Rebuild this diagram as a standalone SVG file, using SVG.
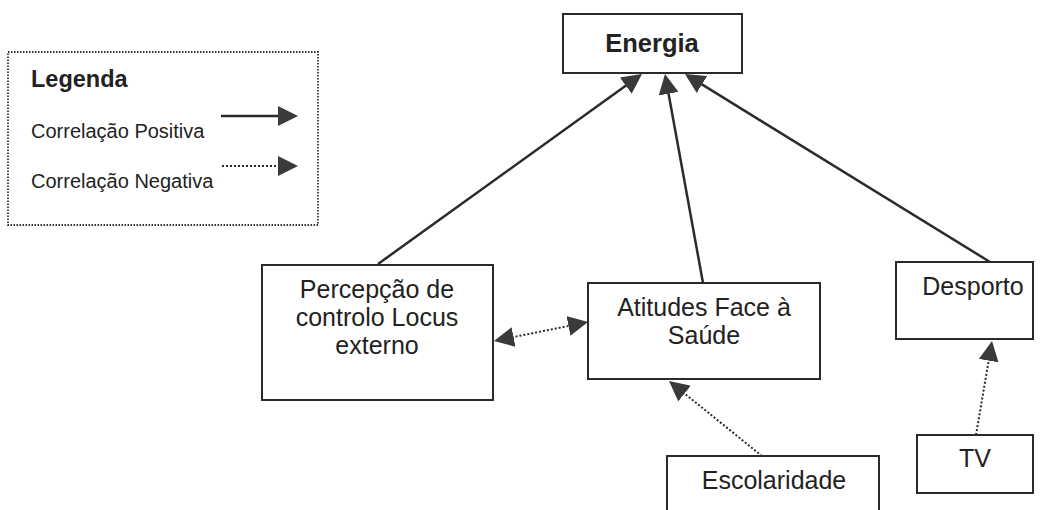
<svg xmlns="http://www.w3.org/2000/svg" width="1043" height="510" viewBox="0 0 1043 510">
  <style>
    .box { fill: #ffffff; stroke: #2a2a2a; stroke-width: 2; }
    .legend { fill: #ffffff; stroke: #333333; stroke-width: 1.8; stroke-dasharray: 1.5 1.5; }
    .t { font-family: "Liberation Sans", Arial, sans-serif; font-size: 25px; fill: #222222; text-anchor: middle; }
    .lt { font-family: "Liberation Sans", Arial, sans-serif; font-size: 20px; fill: #222222; }
    .bold { font-weight: bold; }
    .big { font-size: 25.5px; }
    .pos { stroke: #2b2b2b; stroke-width: 2.5; fill: none; }
    .neg { stroke: #2b2b2b; stroke-width: 2; stroke-dasharray: 2 2; fill: none; }
  </style>
  <defs>
    <marker id="ah" viewBox="0 0 20 20" markerUnits="userSpaceOnUse" markerWidth="20" markerHeight="20" refX="2" refY="10" orient="auto-start-reverse">
      <path d="M0,0 L20,10 L0,20 z" fill="#3a3a3a"/>
    </marker>
  </defs>

  <rect width="1043" height="510" fill="#ffffff"/>

  <g id="legend">
    <rect class="legend" x="8" y="52" width="310" height="173"/>
    <text class="lt bold" x="31" y="87" style="font-size:23.5px">Legenda</text>
    <text class="lt" x="31" y="138">Correlação Positiva</text>
    <text class="lt" x="31" y="188">Correlação Negativa</text>
    <line class="pos" x1="221" y1="116" x2="280" y2="116" marker-end="url(#ah)"/>
    <line class="neg" x1="222" y1="166" x2="280" y2="166" marker-end="url(#ah)"/>
  </g>

  <g id="connectors">
    <line class="pos" x1="378" y1="264" x2="627.4" y2="84.5" marker-end="url(#ah)"/>
    <line class="pos" x1="703" y1="283" x2="668.2" y2="91.7" marker-end="url(#ah)"/>
    <line class="pos" x1="990" y1="262" x2="700.3" y2="83.4" marker-end="url(#ah)"/>
    <line class="neg" x1="511.6" y1="337.4" x2="570.4" y2="325.6" marker-start="url(#ah)" marker-end="url(#ah)"/>
    <line class="neg" x1="762" y1="456" x2="683" y2="392.3" marker-end="url(#ah)"/>
    <line class="neg" x1="976" y1="435" x2="989" y2="358.7" marker-end="url(#ah)"/>
  </g>

  <g id="energia">
    <rect class="box" x="563" y="14" width="179" height="59"/>
    <text class="t bold big" x="652" y="52">Energia</text>
  </g>

  <g id="percepcao">
    <rect class="box" x="262" y="265" width="231" height="135"/>
    <text class="t" x="377" y="298">Percepção de</text>
    <text class="t" x="377" y="326">controlo Locus</text>
    <text class="t" x="377" y="354">externo</text>
  </g>

  <g id="atitudes">
    <rect class="box" x="588" y="283" width="232" height="96"/>
    <text class="t" x="704" y="316">Atitudes Face à</text>
    <text class="t" x="704" y="344">Saúde</text>
  </g>

  <g id="desporto">
    <rect class="box" x="896" y="262" width="137" height="77"/>
    <text class="t" x="973" y="295">Desporto</text>
  </g>

  <g id="escolaridade">
    <rect class="box" x="667" y="456" width="212" height="70"/>
    <text class="t" x="774" y="489">Escolaridade</text>
  </g>

  <g id="tv">
    <rect class="box" x="917" y="435" width="116" height="58"/>
    <text class="t" x="975" y="467">TV</text>
  </g>
</svg>
